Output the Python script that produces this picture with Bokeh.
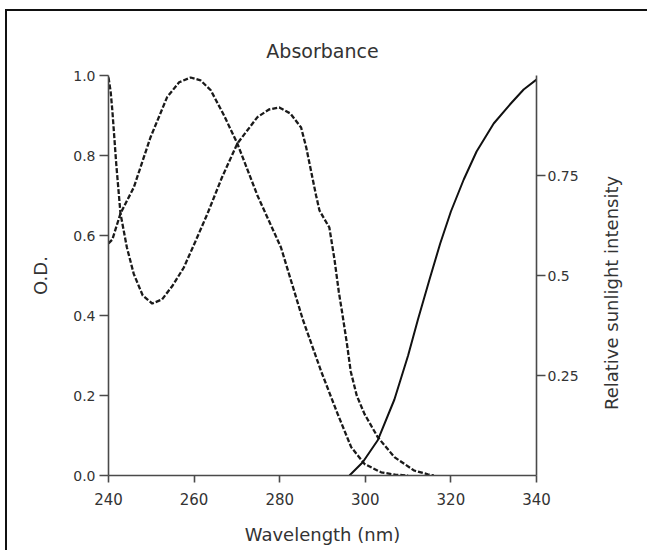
from math import pi
from bokeh.plotting import figure
from bokeh.layouts import row
from bokeh.models import Range1d, LinearAxis, FixedTicker, ColumnDataSource
from bokeh.core.properties import value
from bokeh.embed import file_html
from bokeh.resources import INLINE

# ---- data ----
wl_a = [240, 240.9, 242.8, 245.9, 249.8, 253.7, 256.5, 259.2, 261.5, 263.9, 267.0,
        270.1, 274.8, 280.3, 285.4, 289.7, 293.5, 296.7, 299.8, 303.7, 307.0, 310.0]
od_a = [0.58, 0.59, 0.655, 0.72, 0.845, 0.946, 0.983, 0.995, 0.988, 0.963, 0.90,
        0.83, 0.70, 0.57, 0.39, 0.26, 0.155, 0.071, 0.029, 0.008, 0.002, 0.0]

wl_b = [240, 240.5, 240.9, 241.8, 242.8, 244.3, 245.9, 248.0, 250.2, 252.5, 255.0,
        257.6, 260.3, 263.1, 266.5, 270.1, 274.8, 277.5, 279.9, 282.5, 285.0, 286.2,
        287.3, 288.5, 289.3, 290.5, 291.6, 292.8, 293.8, 294.7, 295.7, 296.6, 298.0,
        299.8, 302.9, 306.8, 311.4, 314.6, 316.0]
od_b = [0.995, 0.96, 0.9125, 0.78, 0.655, 0.57, 0.504, 0.45, 0.43, 0.44, 0.475,
        0.52, 0.585, 0.654, 0.745, 0.83, 0.896, 0.915, 0.92, 0.905, 0.87, 0.82,
        0.7625, 0.70, 0.6625, 0.64, 0.62, 0.54, 0.46, 0.40, 0.33, 0.26, 0.20,
        0.154, 0.096, 0.046, 0.0125, 0.003, 0.0]

wl_sun = [296.3, 299.4, 302.9, 306.8, 310.0, 312.3, 315.0, 317.5, 320.0, 323.0,
          326.0, 330.0, 334.0, 337.0, 340.0]
sun = [0.0, 0.033, 0.088, 0.19, 0.30, 0.39, 0.49, 0.58, 0.66, 0.74,
       0.81, 0.88, 0.93, 0.965, 0.99]

x_ticks = [240, 260, 280, 300, 320, 340]
od_ticks = [0.0, 0.2, 0.4, 0.6, 0.8, 1.0]
sun_ticks = [0.25, 0.5, 0.75]
sun_tick_labels = ["0.25", "0.5", "0.75"]
right_title = ["Relative sunlight intensity"]

FONT = "DejaVu Sans"
INK = "#333333"
AXC = "#4a4a4a"
H = 539

p = figure(width=591, height=H, output_backend="svg", toolbar_location=None,
           x_range=Range1d(240, 340), y_range=Range1d(0, 1.0),
           min_border_left=101, min_border_right=62, min_border_top=64,
           min_border_bottom=75, title="Absorbance")
p.extra_y_ranges = {"sun": Range1d(0, 1.0)}
p.background_fill_color = "white"
p.border_fill_color = "white"
p.outline_line_color = None
p.grid.visible = False

p.title.align = "center"
p.title.offset = 4
p.title.text_font = FONT
p.title.text_font_size = "19px"
p.title.text_font_style = "normal"
p.title.text_color = INK
p.title.standoff = 27

# curves
p.line(wl_a, od_a, line_color="#1a1a1a", line_width=2.3, line_dash="5 2")
p.line(wl_b, od_b, line_color="#1a1a1a", line_width=2.3, line_dash="5 2")
p.line(wl_sun, sun, y_range_name="sun", line_color="#111111", line_width=2)

# axes
xa = p.xaxis[0]
xa.ticker = FixedTicker(ticks=x_ticks)
xa.axis_label = "Wavelength (nm)"
ya = p.yaxis[0]
ya.ticker = FixedTicker(ticks=od_ticks)
ya.major_label_overrides = {t: f"{t:.1f}" for t in od_ticks}
ya.axis_label = "O.D."

ra = LinearAxis(y_range_name="sun", ticker=FixedTicker(ticks=sun_ticks),
                major_label_overrides=dict(zip(sun_ticks, sun_tick_labels)))
p.add_layout(ra, "right")

for ax in (xa, ya, ra):
    ax.axis_line_color = AXC
    ax.axis_line_width = 1.6
    ax.major_tick_line_color = AXC
    ax.major_tick_line_width = 1.6
    ax.major_tick_in = 0
    ax.minor_tick_line_color = None
    ax.major_label_text_font = FONT
    ax.major_label_text_color = INK
    ax.axis_label_text_font = FONT
    ax.axis_label_text_font_style = "normal"
    ax.axis_label_text_color = INK
    ax.axis_label_text_font_size = "18px"

xa.major_tick_out = 7
xa.major_label_text_font_size = "15px"
xa.major_label_standoff = 10
xa.axis_label_standoff = 16
ya.major_tick_out = 9
ya.major_label_text_font_size = "14px"
ya.major_label_standoff = 4
ya.axis_label_standoff = 19
ra.major_tick_out = 9
ra.major_label_text_font_size = "14px"
ra.major_label_standoff = 2

# strip on the right carrying the rotated right-hand axis title
p2 = figure(width=54, height=H, output_backend="svg", toolbar_location=None,
            x_range=Range1d(0, 54), y_range=Range1d(0, H),
            min_border=0, min_border_left=0, min_border_right=0,
            min_border_top=0, min_border_bottom=0)
p2.axis.visible = False
p2.grid.visible = False
p2.outline_line_color = None
p2.background_fill_color = "white"
p2.border_fill_color = "white"
src = ColumnDataSource(dict(x=[13], y=[H - 293], t=right_title))
p2.text(x="x", y="y", text="t", source=src, angle=pi / 2, text_align="center",
        text_baseline="middle", text_font=value(FONT), text_font_size="18px",
        text_color=INK)

layout = row(p, p2)
layout.styles = {"margin-top": "9px", "margin-left": "5px",
                 "border-top": "2px solid #111", "border-left": "2px solid #111"}

open("out.html", "w").write(file_html(layout, INLINE))
